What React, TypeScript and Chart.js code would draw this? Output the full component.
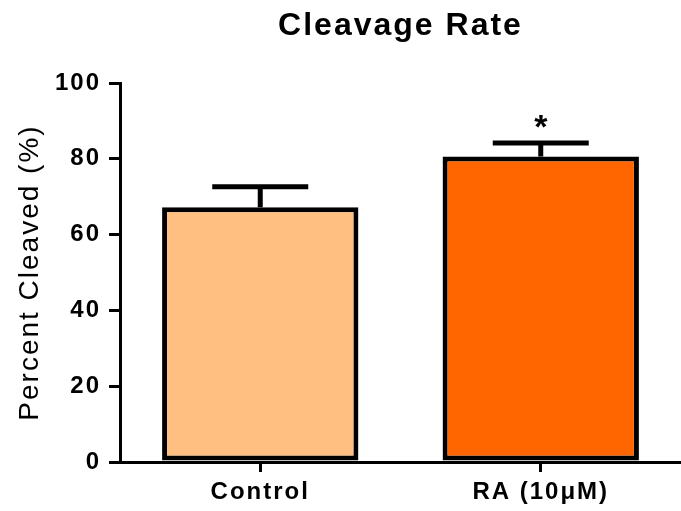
import React, { useEffect, useRef } from "react";
import { Chart, registerables } from "chart.js";

Chart.register(...registerables);

const categories = ["Control", "RA (10μM)"];
const means = [67.2, 80.6];
const errors = [5.4, 3.6];
const significance = ["", "*"];
const yTicks = [0, 20, 40, 60, 80, 100];
const barColors = ["#FFBF80", "#FF6600"];

const FONT = "'Liberation Sans', Arial, Helvetica, sans-serif";

const spacingPlugin = {
  id: "letterSpacing",
  beforeUpdate(chart: any) {
    (chart.ctx as any).letterSpacing = "2px";
  },
  beforeDraw(chart: any) {
    (chart.ctx as any).letterSpacing = "2px";
  },
};

const errorBarPlugin = {
  id: "errorBars",
  afterDatasetsDraw(chart: any) {
    const ctx = chart.ctx;
    const meta = chart.getDatasetMeta(0);
    const yScale = chart.scales.y;
    ctx.save();
    ctx.letterSpacing = "0px";
    ctx.strokeStyle = "#000";
    ctx.fillStyle = "#000";
    ctx.lineWidth = 5;
    ctx.lineCap = "butt";
    meta.data.forEach((bar: any, i: number) => {
      const x = bar.x;
      const yBase = yScale.getPixelForValue(means[i]);
      const yTop = yScale.getPixelForValue(means[i] + errors[i]);
      ctx.beginPath();
      ctx.moveTo(x, yBase);
      ctx.lineTo(x, yTop);
      ctx.stroke();
      ctx.beginPath();
      ctx.moveTo(x - 48, yTop);
      ctx.lineTo(x + 48, yTop);
      ctx.stroke();
      if (significance[i]) {
        ctx.font = `bold 34px ${FONT}`;
        ctx.textAlign = "center";
        ctx.textBaseline = "alphabetic";
        ctx.fillText(significance[i], x, yTop - 5);
      }
    });
    ctx.restore();
  },
};

export default function App() {
  const canvasRef = useRef<HTMLCanvasElement | null>(null);

  useEffect(() => {
    if (!canvasRef.current) return;
    const chart = new Chart(canvasRef.current, {
      type: "bar",
      data: {
        labels: categories,
        datasets: [
          {
            data: means,
            backgroundColor: barColors,
            borderColor: "#000",
            borderWidth: 5,
            borderSkipped: false,
            categoryPercentage: 1,
            barPercentage: 0.7,
          },
        ],
      },
      options: {
        responsive: false,
        animation: false,
        devicePixelRatio: 1,
        layout: { padding: 0 },
        plugins: {
          legend: { display: false },
          tooltip: { enabled: false },
          title: {
            display: true,
            text: "Cleavage Rate",
            fullSize: false,
            color: "#000",
            font: { family: FONT, size: 32, weight: "bold" },
            padding: { top: 7, bottom: 37.6 },
          },
        },
        scales: {
          x: {
            type: "category",
            offset: true,
            grid: {
              display: true,
              drawOnChartArea: false,
              drawTicks: true,
              tickLength: 10,
              color: "#000",
              lineWidth: 3,
              offset: false,
            },
            border: { display: true, color: "#000", width: 3 },
            ticks: {
              color: "#000",
              font: { family: FONT, size: 24, weight: "bold" },
              padding: 6,
              maxRotation: 0,
            },
            afterFit(scale: any) {
              scale.height = 49;
            },
          },
          y: {
            min: 0,
            max: 100,
            afterBuildTicks(scale: any) {
              scale.ticks = yTicks.map((v) => ({ value: v }));
            },
            grid: {
              display: true,
              drawOnChartArea: false,
              drawTicks: true,
              tickLength: 11,
              color: "#000",
              lineWidth: 3,
            },
            border: { display: true, color: "#000", width: 3 },
            ticks: {
              color: "#000",
              font: { family: FONT, size: 24, weight: "bold" },
              padding: 8,
            },
            title: {
              display: true,
              text: "Percent Cleaved (%)",
              color: "#000",
              font: { family: FONT, size: 28 },
              padding: { top: 13, bottom: 0 },
            },
            afterFit(scale: any) {
              scale.width = 120;
            },
          },
        },
      },
      plugins: [spacingPlugin, errorBarPlugin],
    } as any);
    return () => chart.destroy();
  }, []);

  return (
    <div style={{ position: "absolute", left: 0, top: 0, width: 681, height: 511 }}>
      <canvas ref={canvasRef} width={681} height={511} />
    </div>
  );
}
